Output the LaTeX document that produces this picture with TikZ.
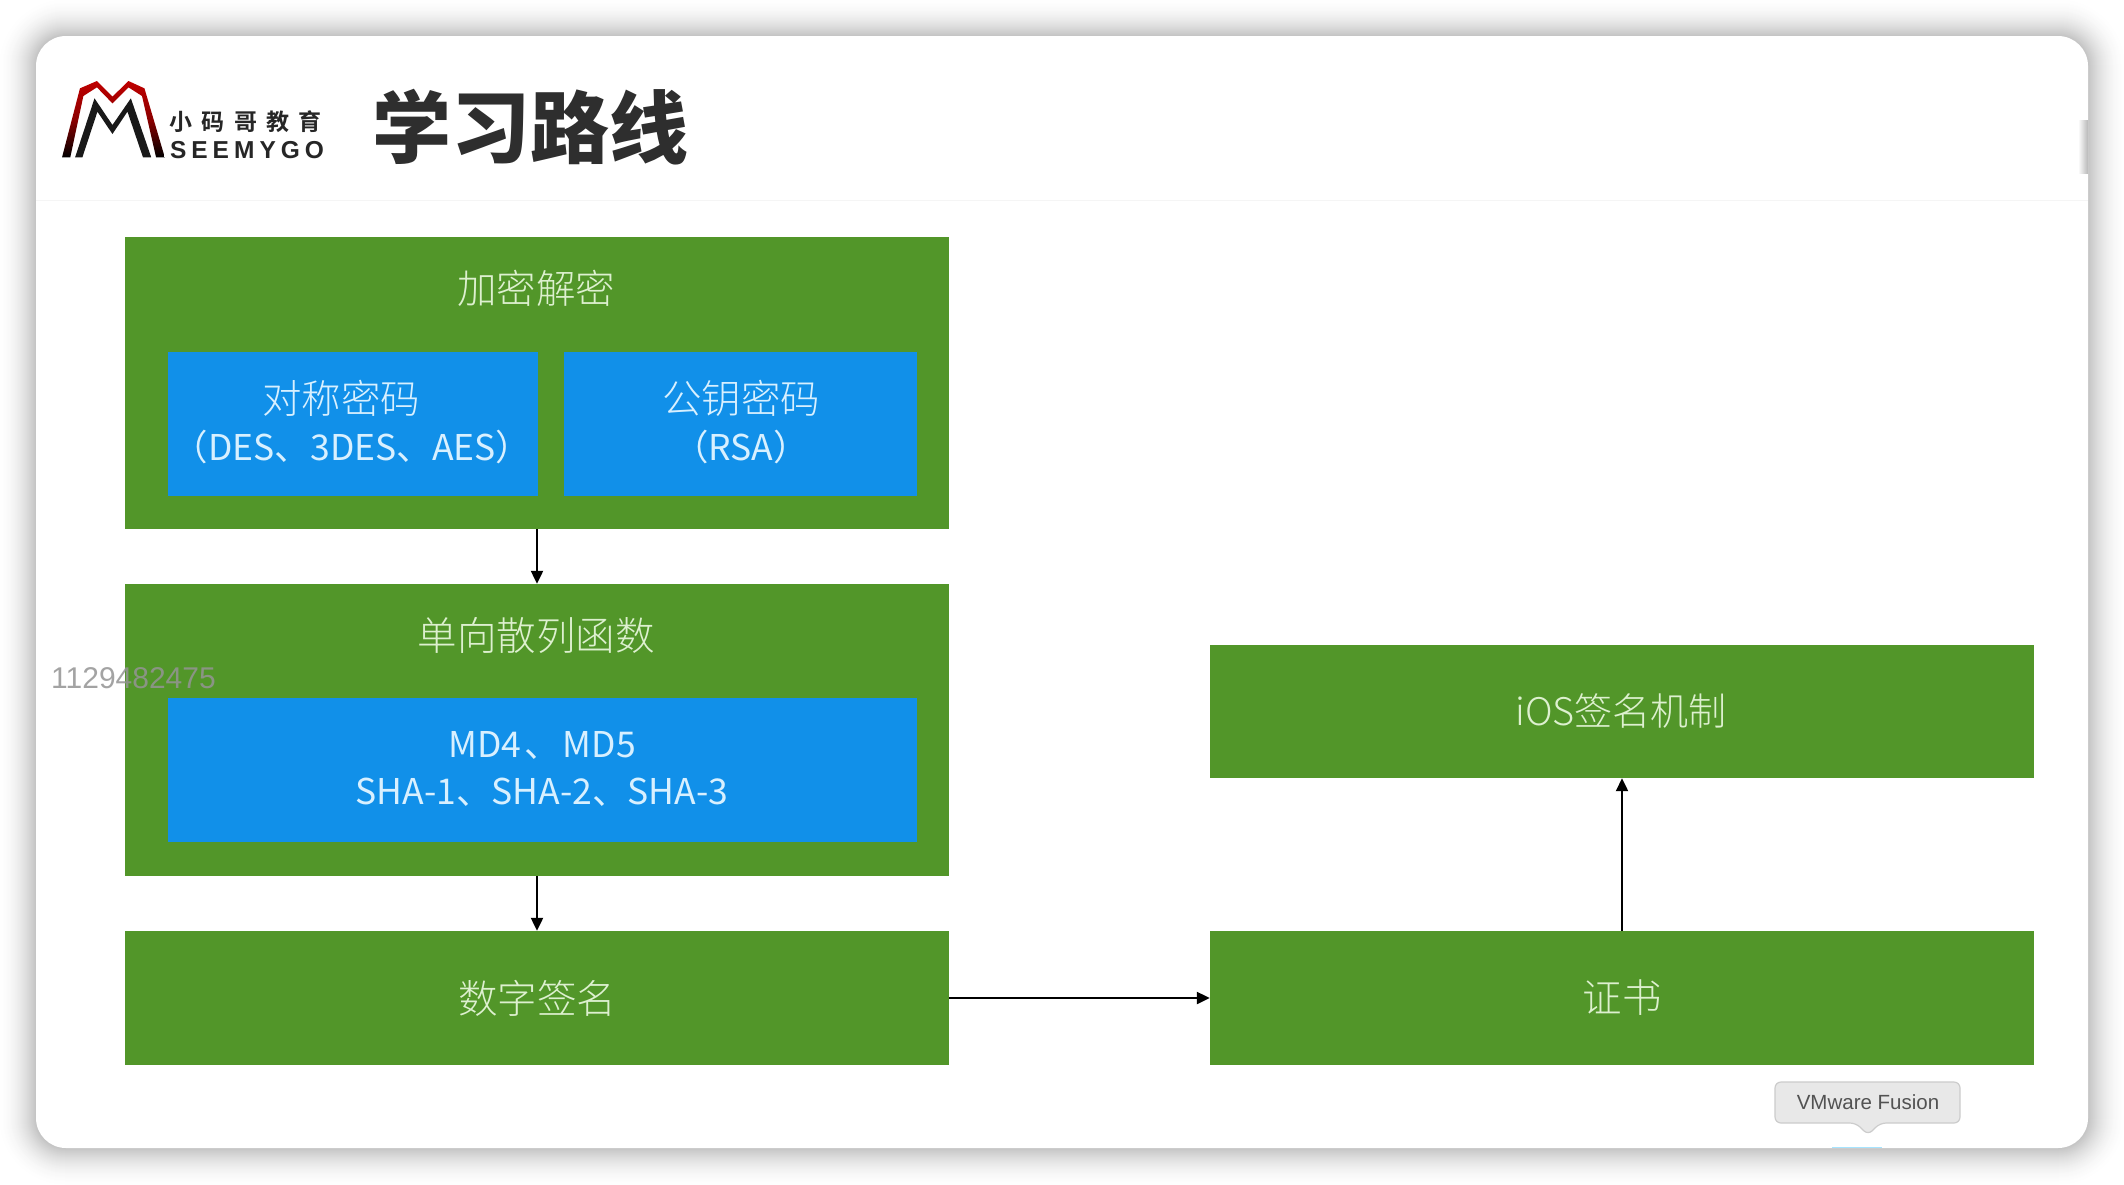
\documentclass[tikz,border=0pt]{standalone}
\usepackage{fontspec}
\usetikzlibrary{arrows.meta}
\setmainfont{Liberation Sans}
\newfontfamily\cjk{Noto Sans CJK SC}[UprightFont=* Light,BoldFont=* Bold]
\newfontfamily\cjkr{Noto Sans CJK SC}
\newfontfamily\cjkb{Noto Sans CJK SC}[UprightFont=* Black]
\definecolor{grn}{HTML}{529629}
\definecolor{blu}{HTML}{1190E9}
\definecolor{gtxt}{HTML}{DDF0CF}
\definecolor{btxt}{HTML}{D8F0FF}
\tikzset{
  greenbox/.style={fill=grn,draw=none,inner sep=0pt,text=gtxt,font=\cjk\fontsize{39.5}{39.5}\selectfont},
  bluebox/.style={fill=blu,draw=none,inner sep=0pt},
  gtext/.style={inner sep=0pt,text=gtxt,font=\cjk\fontsize{39.5}{39.5}\selectfont},
  btext/.style={inner sep=0pt,text=btxt,font=\cjk\fontsize{39.5}{39.5}\selectfont},
  blatin/.style={inner sep=0pt,text=btxt,font=\cjkr\fontsize{35.5}{35.5}\selectfont},
  link/.style={draw=black,line width=2.2pt,-{Triangle[length=13pt,width=12pt]},shorten >=0pt},
}
\begin{document}
\begin{tikzpicture}[x=1pt,y=-1pt]
\useasboundingbox (0,0) rectangle (2124,1184);
\fill[white] (0,0) rectangle (2124,1184);
% window shadow
\foreach \i in {40,39,...,1}{
  \pgfmathsetmacro{\p}{(40-\i)*(40-\i)/1600*24}
  \fill[black!\p!white,rounded corners={30pt+\i pt}] (36-\i,36-\i) rectangle (2088+\i,1148+\i);
}
% window
\fill[white,rounded corners=30pt] (36,36) rectangle (2088,1148);
\fill[black!4] (36,199.5) rectangle (2088,201);
\shade[left color=white,right color=black!28] (2078,120) rectangle (2088,173);
% logo
\begin{scope}[x=0.4847pt,y=-0.33333pt]
  \shade[top color=red!75!black,bottom color=black,middle color=red!55!black]
    (128,472)--(165,265)--(200,243)--(232,290)--(265,243)--(298,265)--(340,472)--(322,472)
    --(293,288)--(265,262)--(232,310)--(200,262)--(172,288)--(145,472)--cycle;
  \fill[black!90]
    (155,472)--(195,295)--(232,375)--(270,295)--(312,472)--(295,472)--(263,335)--(232,402)
    --(201,335)--(170,472)--cycle;
\end{scope}
\node[inner sep=0pt,text=black!85,font=\cjk\bfseries\fontsize{23}{23}\selectfont] (logocn) at (245.5,122)
  {\makebox[153pt][s]{小\hfill 码\hfill 哥\hfill 教\hfill 育}};
\node[inner sep=0pt,text=black!85,font=\bfseries\fontsize{24.5}{24.5}\selectfont] (logoen) at (247,150)
  {\makebox[154pt][s]{S\hfill E\hfill E\hfill M\hfill Y\hfill G\hfill O}};
\node[inner sep=0pt,text=black!82,font=\cjkb\fontsize{79}{79}\selectfont] (title) at (530,127) {学习路线};
% boxes
\node[greenbox,minimum width=824pt,minimum height=292pt] (crypt) at (537,383) {};
\node[bluebox,minimum width=370pt,minimum height=144pt] (sym) at (353,424) {};
\node[bluebox,minimum width=353pt,minimum height=144pt] (pub) at (740.5,424) {};
\node[greenbox,minimum width=824pt,minimum height=292pt] (hash) at (537,730) {};
\node[bluebox,minimum width=749pt,minimum height=144pt] (md) at (542.5,769.5) {};
\node[greenbox,minimum width=824pt,minimum height=134pt] (sign) at (537,998) {数字签名};
\node[greenbox,minimum width=824pt,minimum height=134pt] (cert) at (1622,998) {证书};
\node[greenbox,minimum width=824pt,minimum height=133pt,font=\cjk\fontsize{38}{38}\selectfont] (ios) at (1622,711.5) {iOS签名机制\kern2pt};
% texts
\node[gtext] (t1) at (536,288) {加密解密};
\node[btext] (t2) at (341,398) {对称密码};
\node[blatin] (t3) at (352,447) {（DES、3DES、AES）};
\node[btext] (t4) at (741,398) {公钥密码};
\node[blatin] (t5) at (741,447) {（RSA）};
\node[gtext] (t6) at (536,635) {单向散列函数};
\node[blatin] (t7) at (542,745) {MD4\kern3pt、\kern3pt MD5};
\node[blatin] (t8) at (542,792) {SHA-1、SHA-2、SHA-3};
% connectors
\draw[link] (crypt.south) -- (hash.north);
\draw[link] (hash.south) -- (sign.north);
\draw[link] (sign.east) -- (cert.west);
\draw[link] (cert.north) -- (ios.south);
% watermark
\node[inner sep=0pt,anchor=west,text=black!42,opacity=.85,font=\fontsize{30}{30}\selectfont] (wm) at (51,678) {1129482475};
% tooltip
\fill[blue!30!cyan!35] (1832,1146.5) rectangle (1882,1148);
\draw[fill=black!9,draw=black!20,line width=1.2pt,rounded corners=6pt]
  (1775,1082) -- (1960,1082) -- (1960,1123) -- (1880,1123) -- (1868,1135) -- (1856,1123) -- (1775,1123) -- cycle;
\node[inner sep=0pt,text=black!68,font=\fontsize{20.5}{20.5}\selectfont] (tip) at (1868,1102) {VMware Fusion};
\end{tikzpicture}
\end{document}
